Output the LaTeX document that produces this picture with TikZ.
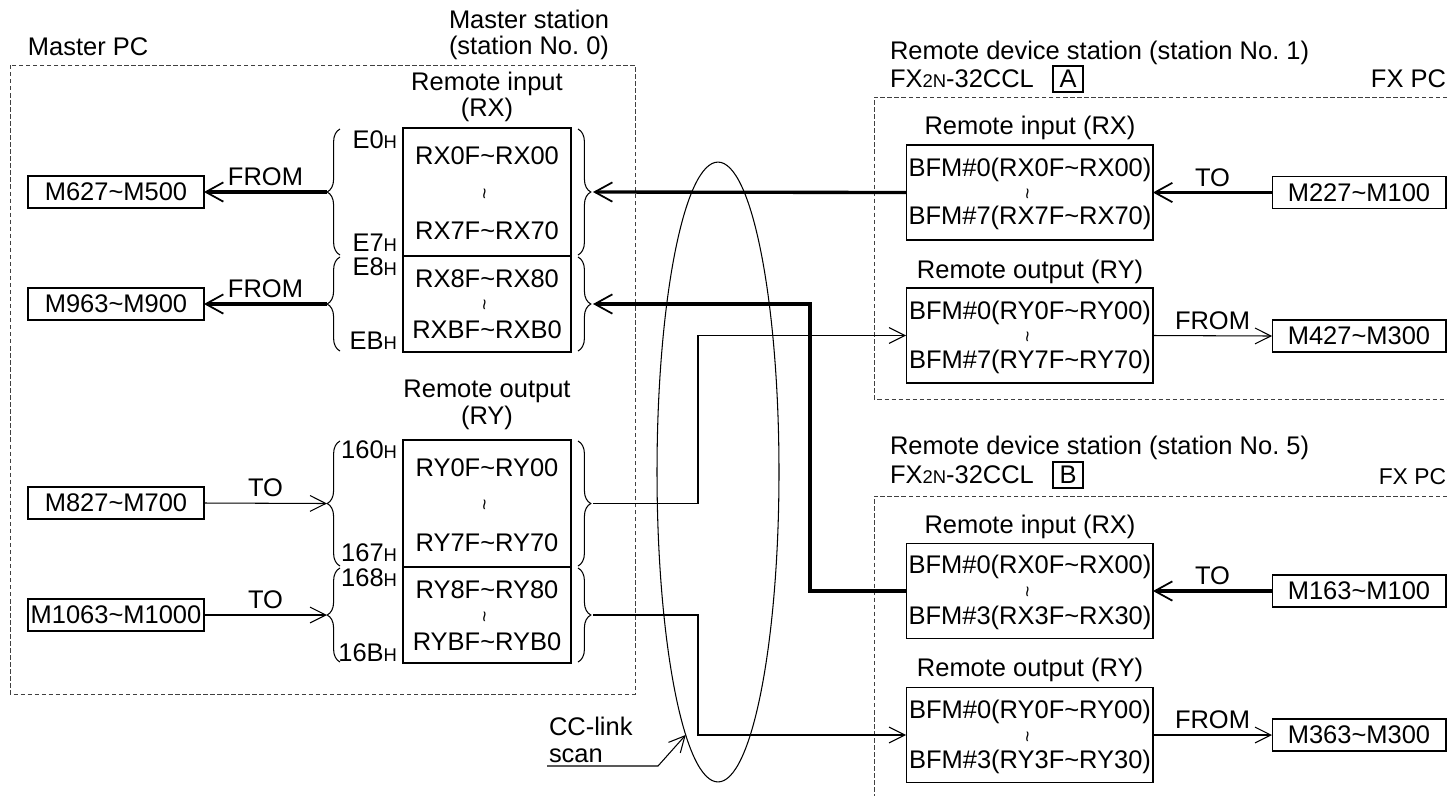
\documentclass[tikz,border=0pt]{standalone}
\usepackage{fontspec}
\setmainfont{Liberation Sans}
\usetikzlibrary{arrows.meta,decorations.pathreplacing,shapes.geometric}
\newcommand{\tld}{\textasciitilde}
\newcommand{\subh}{\fontsize{10.5}{10.5}\selectfont H}
\newcommand{\smalltwo}{\fontsize{10.5}{10.5}\selectfont 2N}
\begin{document}
\begin{tikzpicture}[x=0.02cm, y=-0.02cm,
  every node/.style={font=\fontsize{14.5}{15}\selectfont, inner sep=0pt, outer sep=0pt},
  mbox/.style={draw, line width=0.6pt, minimum width=3.52cm, minimum height=0.64cm},
  fxbox/.style={draw, line width=0.6pt, minimum width=3.48cm, minimum height=0.64cm},
  reg/.style={draw, line width=0.6pt, minimum width=3.36cm},
  bfm/.style={draw, line width=0.6pt, minimum width=4.94cm, minimum height=1.9cm},
  wave/.style={rotate=90, font=\fontsize{11}{11}\selectfont},
  hex/.style={anchor=east},
  frame/.style={draw=black!75, dash pattern=on 2.5pt off 1.5pt, line width=0.5pt},
  curly/.style={decorate, decoration={brace, amplitude=7.3pt}, line width=0.6pt},
  thickflow/.style={line width=1.9pt, -{Straight Barb[length=10pt, width=11pt, line width=1pt]}},
  thinflow/.style={line width=0.6pt, -{Straight Barb[length=9pt, width=9pt]}}]
\useasboundingbox (0,0) rectangle (1447,796);

% master side
\node[anchor=west] (mpc) at (28,47) {Master PC};
\node[align=center] (mstn) at (529,35) {Master station\\(station No.~0)};
\draw[frame] (10,65) rectangle (635,694);

\node[align=center] (mrxlab) at (487,97) {Remote input\\(RX)};
\node[reg, minimum height=2.56cm] (rx1) at (487,192) {};
\node[reg, minimum height=1.92cm] (rx2) at (487,304) {};
\node (rx1a) at (487,156) {RX0F\tld RX00};
\node[wave] (rx1w) at (487,194) {\tld};
\node (rx1b) at (487,231) {RX7F\tld RX70};
\node (rx2a) at (487,279) {RX8F\tld RX80};
\node[wave] (rx2w) at (487,305) {\tld};
\node (rx2b) at (487,330) {RXBF\tld RXB0};

\node[align=center] (mrylab) at (487,405) {Remote output\\(RY)};
\node[reg, minimum height=2.54cm] (ry1) at (487,503.5) {};
\node[reg, minimum height=1.92cm] (ry2) at (487,615) {};
\node (ry1a) at (487,468) {RY0F\tld RY00};
\node[wave] (ry1w) at (487,505) {\tld};
\node (ry1b) at (487,543) {RY7F\tld RY70};
\node (ry2a) at (487,590) {RY8F\tld RY80};
\node[wave] (ry2w) at (487,617) {\tld};
\node (ry2b) at (487,642) {RYBF\tld RYB0};

\node[hex] (h1) at (397,140) {E0\subh};
\node[hex] (h2) at (397,243) {E7\subh};
\node[hex] (h3) at (397,267) {E8\subh};
\node[hex] (h4) at (397,341) {EB\subh};
\node[hex] (h5) at (397,450) {160\subh};
\node[hex] (h6) at (397,553) {167\subh};
\node[hex] (h7) at (397,578) {168\subh};
\node[hex] (h8) at (397,653) {16B\subh};

% braces
\draw[curly] (340,255) -- (340,129);
\draw[curly] (340,351) -- (340,257);
\draw[curly] (340,566) -- (340,441);
\draw[curly] (340,662) -- (340,568);
\draw[curly] (578,129) -- (578,255);
\draw[curly] (578,257) -- (578,351);
\draw[curly] (578,441) -- (578,566);
\draw[curly] (578,568) -- (578,662);
\coordinate (lrx1) at (327,192);
\coordinate (lrx2) at (327,304);
\coordinate (lry1) at (327,503.5);
\coordinate (lry2) at (327,615);
\coordinate (trx1) at (593,192);
\coordinate (trx2) at (593,304);
\coordinate (try1) at (593,503.5);
\coordinate (try2) at (593,615);

\node[mbox] (m627) at (116,192) {M627\tld M500};
\node[mbox] (m963) at (116,304) {M963\tld M900};
\node[mbox] (m827) at (116,503) {M827\tld M700};
\node[mbox] (m1063) at (116,615) {M1063\tld M1000};

\draw[thickflow] (lrx1) -- (m627.east) node[midway, above=3.5pt] (from1) {FROM};
\draw[thickflow] (lrx2) -- (m963.east) node[midway, above=3.5pt] (from2) {FROM};
\draw[thinflow] (m827.east) -- (lry1) node[midway, above=3.5pt] (to1) {TO};
\draw[thinflow] (m1063.east) -- (lry2) node[midway, above=3.5pt] (to2) {TO};

% station A
\node[anchor=west] (rdsa) at (890,53) {Remote device station (station No.~1)};
\node[anchor=west] (fxa) at (890,79) {FX{\smalltwo}-32CCL};
\node[draw, line width=0.6pt, minimum width=0.6cm, minimum height=0.52cm] (lba) at (1068,79) {A};
\node[anchor=east] (fxpca) at (1446,79) {FX PC};
\draw[frame] (1447,97) -- (874,97) -- (874,399) -- (1447,399);

\node (arxlab) at (1030,128) {Remote input (RX)};
\node[bfm] (arx) at (1029.5,192.5) {};
\node (arxa) at (1030,170) {BFM\#0(RX0F\tld RX00)};
\node[wave] (arxw) at (1030,194) {\tld};
\node (arxb) at (1030,218) {BFM\#7(RX7F\tld RX70)};
\node (arylab) at (1030,272) {Remote output (RY)};
\node[bfm] (ary) at (1029.5,335.5) {};
\node (arya) at (1030,313) {BFM\#0(RY0F\tld RY00)};
\node[wave] (aryw) at (1030,337) {\tld};
\node (aryb) at (1030,362) {BFM\#7(RY7F\tld RY70)};
\node[fxbox] (m227) at (1359,192.5) {M227\tld M100};
\node[fxbox] (m427) at (1359,336) {M427\tld M300};

\draw[thickflow] (m227.west) -- (arx.east) node[midway, above=3.5pt] (toa) {TO};
\draw[thinflow] (ary.east) -- (m427.west) node[midway, above=3.5pt] (froma) {FROM};

% station B
\node[anchor=west] (rdsb) at (890,448) {Remote device station (station No.~5)};
\node[anchor=west] (fxb) at (890,475) {FX{\smalltwo}-32CCL};
\node[draw, line width=0.6pt, minimum width=0.6cm, minimum height=0.52cm] (lbb) at (1068,475) {B};
\node[anchor=east, font=\fontsize{13}{13}\selectfont] (fxpcb) at (1446,477) {FX PC};
\draw[frame] (1447,496) -- (874,496) -- (874,796);

\node (brxlab) at (1030,527) {Remote input (RX)};
\node[bfm] (brx) at (1029.5,591) {};
\node (brxa) at (1030,567) {BFM\#0(RX0F\tld RX00)};
\node[wave] (brxw) at (1030,592) {\tld};
\node (brxb) at (1030,618) {BFM\#3(RX3F\tld RX30)};
\node (brylab) at (1030,670) {Remote output (RY)};
\node[bfm] (bry) at (1029.5,735) {};
\node (brya) at (1030,712) {BFM\#0(RY0F\tld RY00)};
\node[wave] (bryw) at (1030,737) {\tld};
\node (bryb) at (1030,762) {BFM\#3(RY3F\tld RY30)};
\node[fxbox] (m163) at (1359,591) {M163\tld M100};
\node[fxbox] (m363) at (1359,735) {M363\tld M300};

\draw[thickflow] (m163.west) -- (brx.east) node[midway, above=3.5pt] (tob) {TO};
\draw[thinflow] (bry.east) -- (m363.west) node[midway, above=3.5pt] (fromb) {FROM};

% link
\draw[thickflow] (arx.west) -- (trx1);
\draw[thickflow] (brx.west) -- ++(-96,0) |- (trx2);
\draw[thinflow] (try1) -- ++(105,0) |- (ary.west);
\draw[thinflow] (try2) -- ++(105,0) |- (bry.west);

\node[draw, ellipse, line width=0.6pt, minimum width=2.44cm, minimum height=12.4cm] (scan) at (718,472) {};
\node[anchor=west, align=left] (cclab) at (549,740) {CC-link\\scan};
\coordinate (cctail) at (547,766);
\coordinate (ccbend) at (658,766);
\draw[thinflow] (cctail) -- (ccbend) -- (scan.263);
\end{tikzpicture}
\end{document}
